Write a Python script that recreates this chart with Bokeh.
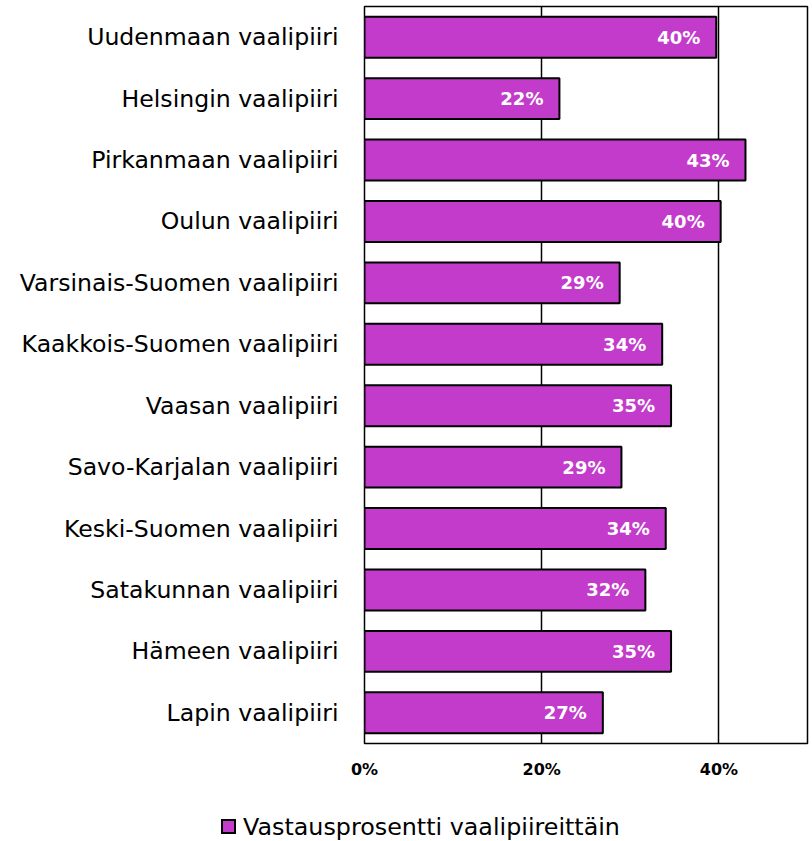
from bokeh.plotting import figure
from bokeh.layouts import column
from bokeh.models import (FactorRange, Range1d, FixedTicker, PrintfTickFormatter,
                          ColumnDataSource, Div)
from bokeh.core.properties import value
from bokeh.embed import file_html
from bokeh.resources import INLINE

categories = ["Uudenmaan vaalipiiri", "Helsingin vaalipiiri", "Pirkanmaan vaalipiiri",
              "Oulun vaalipiiri", "Varsinais-Suomen vaalipiiri", "Kaakkois-Suomen vaalipiiri",
              "Vaasan vaalipiiri", "Savo-Karjalan vaalipiiri", "Keski-Suomen vaalipiiri",
              "Satakunnan vaalipiiri", "Hämeen vaalipiiri", "Lapin vaalipiiri"]
values = [39.7, 22.0, 43.0, 40.2, 28.8, 33.6, 34.6, 29.0, 34.0, 31.7, 34.6, 26.9]
labels = ["40%", "22%", "43%", "40%", "29%", "34%", "35%", "29%", "34%", "32%", "35%", "27%"]
x_ticks = [0, 20, 40]
series_name = "Vastausprosentti vaalipiireittäin"

FONT = "DejaVu Sans"
BAR_COLOR = "#C23BCB"

src = ColumnDataSource(dict(cat=categories, val=values, lab=labels))

p = figure(width=812, height=781, output_backend="svg", toolbar_location=None,
           y_range=FactorRange(factors=list(reversed(categories))),
           x_range=Range1d(0, 50),
           min_border_left=364, min_border_right=5, min_border_top=6,
           min_border_bottom=36)
p.background_fill_color = "white"
p.border_fill_color = "white"
p.outline_line_color = "black"
p.outline_line_width = 1.5

bars = p.hbar(y="cat", right="val", left=0, height=0.666, source=src,
              fill_color=BAR_COLOR, line_color="black", line_width=2)

p.text(x="val", y="cat", text="lab", source=src, x_offset=-16,
       text_align="right", text_baseline="middle", text_color="white",
       text_font=value(FONT), text_font_style="bold", text_font_size="18px")

# axes
p.xaxis.ticker = FixedTicker(ticks=x_ticks)
p.xaxis.formatter = PrintfTickFormatter(format="%d%%")
p.xaxis.axis_line_color = None
p.xaxis.major_tick_line_color = None
p.xaxis.minor_tick_line_color = None
p.xaxis.major_tick_out = 0
p.xaxis.major_label_standoff = 16
p.xaxis.major_label_text_font = FONT
p.xaxis.major_label_text_font_style = "bold"
p.xaxis.major_label_text_font_size = "16px"
p.xaxis.major_label_text_color = "black"

p.yaxis.axis_line_color = None
p.yaxis.major_tick_line_color = None
p.yaxis.major_tick_out = 0
p.yaxis.major_label_standoff = 26
p.yaxis.major_label_text_font = FONT
p.yaxis.major_label_text_font_size = "23.6px"
p.yaxis.major_label_text_color = "black"

p.xgrid.ticker = FixedTicker(ticks=x_ticks)
p.xgrid.grid_line_color = "black"
p.xgrid.grid_line_width = 1.5
p.ygrid.grid_line_color = None

# legend (key square + series name) below the chart
legend_html = (
    '<div style="position:relative;width:812px;height:60px;'
    f"font-family:'{FONT}';font-size:23.8px;color:black;\">"
    '<span style="position:absolute;box-sizing:border-box;left:221px;top:38px;'
    'width:15px;height:15px;'
    f'background:{BAR_COLOR};border:2px solid black;"></span>'
    '<span style="position:absolute;left:243px;top:32px;line-height:28px;'
    f'white-space:nowrap;">{series_name}</span>'
    '</div>'
)
legend_div = Div(text=legend_html, width=812, height=60, margin=(0, 0, 0, 0))

layout = column(p, legend_div, spacing=0)
open("out.html", "w").write(file_html(layout, INLINE))
